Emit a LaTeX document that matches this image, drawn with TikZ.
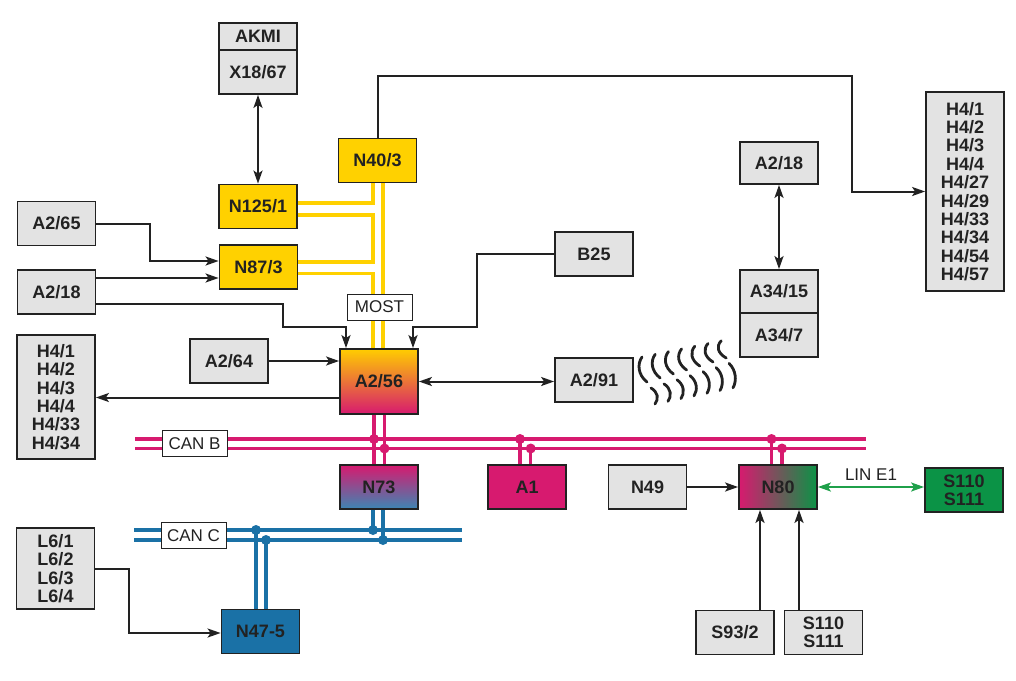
\documentclass[tikz,border=0pt]{standalone}
\usepackage{fontspec}
\setmainfont{Liberation Sans}
\usepackage{xcolor}
\usepackage{tikz}
\usetikzlibrary{arrows.meta,positioning,calc}
\definecolor{boxgray}{HTML}{E3E3E3}
\definecolor{mostyellow}{HTML}{FFD100}
\definecolor{canmagenta}{HTML}{D71A6F}
\definecolor{canblue}{HTML}{1A71A6}
\definecolor{lingreen}{HTML}{0B9346}
\definecolor{linarrow}{HTML}{1FA04A}
\definecolor{ink}{HTML}{222222}
\tikzset{
  unitbox/.style={draw=ink, line width=1.8pt, minimum width=78pt, minimum height=44pt,
    inner sep=1pt, align=center, text=ink, font=\bfseries\fontsize{18}{18.4}\selectfont},
  graybox/.style={unitbox, fill=boxgray},
  yellowbox/.style={unitbox, fill=mostyellow},
  buslabel/.style={draw=ink, fill=white, line width=1pt, inner sep=2pt, minimum height=26pt,
    minimum width=65pt, text=ink, font=\fontsize{17}{18}\selectfont},
  conn/.style={ink, line width=2pt, -{Stealth[length=13pt,width=9pt,inset=3pt]}},
  dconn/.style={ink, line width=2pt, {Stealth[length=13pt,width=9pt,inset=3pt]}-{Stealth[length=13pt,width=9pt,inset=3pt]}},
  mostline/.style={mostyellow, line width=3.2pt},
  canbline/.style={canmagenta, line width=3.2pt},
  cancline/.style={canblue, line width=3.2pt},
  wave/.style={ink, line width=2.8pt, line cap=round},
}
\begin{document}
\begin{tikzpicture}[x=1pt,y=-1pt]
\useasboundingbox (0,0) rectangle (1016,680);
%%First place the nodes
\node[graybox, minimum height=27pt] (akmi) at (258,36.5) {AKMI};
\node[graybox, below=-1.8pt of akmi] (x1867) {X18/67};
\node[yellowbox] (n1251) at (258,206.5) {N125/1};
\node[yellowbox] (n873) at (258.5,267) {N87/3};
\node[yellowbox] (n403) at (377.5,160.5) {N40/3};
\node[graybox] (a265) at (56.5,223.5) {A2/65};
\node[graybox] (a218l) at (56.5,292) {A2/18};
\node[graybox, minimum height=124pt] (h4l) at (56,397) {H4/1\\H4/2\\H4/3\\H4/4\\H4/33\\H4/34};
\node[graybox] (a264) at (229,361) {A2/64};
\node[unitbox, minimum height=65pt, top color=mostyellow!95!orange, bottom color=canmagenta] (a256) at (379,381.5) {A2/56};
\node[graybox] (b25) at (594,254) {B25};
\node[graybox] (a291) at (594,380) {A2/91};
\node[graybox, minimum height=42pt] (a218r) at (779,163) {A2/18};
\node[graybox, minimum height=43pt] (a3415) at (779,291.5) {A34/15};
\node[graybox, below=-1.8pt of a3415] (a347) {A34/7};
\node[graybox, minimum height=199pt] (h4r) at (965,191.5)
  {H4/1\\H4/2\\H4/3\\H4/4\\H4/27\\H4/29\\H4/33\\H4/34\\H4/54\\H4/57};
\node[unitbox, top color=canmagenta, bottom color=canblue!85!white] (n73) at (379,487) {N73};
\node[unitbox, fill=canmagenta] (a1) at (527,487) {A1};
\node[graybox] (n49) at (647.5,487) {N49};
\node[unitbox, left color=canmagenta, right color=lingreen] (n80) at (778,487) {N80};
\node[unitbox, fill=lingreen] (s110g) at (964,490) {S110\\S111};
\node[graybox, minimum height=81pt] (l6) at (55.5,568.5) {L6/1\\L6/2\\L6/3\\L6/4};
\node[unitbox, fill=canblue] (n475) at (260.5,631.5) {N47-5};
\node[graybox] (s932) at (735,632.5) {S93/2};
\node[graybox] (s110) at (823.5,632.5) {S110\\S111};
%%Bus end points
\coordinate (cb1w) at (135,439);
\coordinate (cb1e) at (866,439);
\coordinate (cb2w) at (135,448.5);
\coordinate (cb2e) at (866,448.5);
\coordinate (cc1w) at (134,530);
\coordinate (cc1e) at (462,530);
\coordinate (cc2w) at (134,540);
\coordinate (cc2e) at (462,540);
%%Draw the MOST ring
\coordinate (r1) at ($(n403.south)+(-4.5,0)$);
\coordinate (r2) at ($(n403.south)+(5.5,0)$);
\coordinate (n1251a) at ($(n1251.east)+(0,-3.5)$);
\coordinate (n1251b) at ($(n1251.east)+(0,8.5)$);
\coordinate (n873a) at ($(n873.east)+(0,-5)$);
\coordinate (n873b) at ($(n873.east)+(0,6.3)$);
\draw[mostline] (r1) |- (n1251a);
\draw[mostline] (n1251b) -| (r1 |- n873a) -- (n873a);
\draw[mostline] (n873b) -| (r1 |- a256.north);
\draw[mostline] (r2) -- (r2 |- a256.north);
%%Draw the CAN B bus
\draw[canbline] (cb1w) -- (cb1e);
\draw[canbline] (cb2w) -- (cb2e);
\foreach \dx/\bus in {-5/cb1w, 5.5/cb2w}{
  \coordinate (t) at ($(a256.south)+(\dx,0)$);
  \draw[canbline] (t) -- (t |- n73.north);
  \fill[canmagenta] (t |- \bus) circle (5);
}
\foreach \unit/\dx/\bus in {a1/-7/cb1w, a1/3.7/cb2w, n80/-6.5/cb1w, n80/4/cb2w}{
  \coordinate (t) at ($(\unit.north)+(\dx,0)$);
  \draw[canbline] (t |- \bus) -- (t);
  \fill[canmagenta] (t |- \bus) circle (5);
}
%%Draw the CAN C bus
\draw[cancline] (cc1w) -- (cc1e);
\draw[cancline] (cc2w) -- (cc2e);
\foreach \dx/\bus in {-6/cc1w, 4/cc2w}{
  \coordinate (t) at ($(n73.south)+(\dx,0)$);
  \draw[cancline] (t) -- (t |- \bus);
  \fill[canblue] (t |- \bus) circle (5);
}
\foreach \dx/\bus in {-4.5/cc1w, 5.5/cc2w}{
  \coordinate (t) at ($(n475.north)+(\dx,0)$);
  \draw[cancline] (t |- \bus) -- (t);
  \fill[canblue] (t |- \bus) circle (5);
}
%%Bus labels on top
\node[buslabel] (most) at (379.5,307) {MOST};
\node[buslabel] (canb) at (194.5,443.5) {CAN B};
\node[buslabel] (canc) at (193.5,535.5) {CAN C};
%%Draw the black arrows
\draw[dconn] (x1867.south) -- (n1251.north);
\draw[dconn] (a218r.south) -- (a3415.north);
\draw[dconn] (a256.east) -- (a256.east -| a291.west);
\draw[conn] (a265.east) -- ++(54,0) |- ($(n873.west)+(0,-6)$);
\coordinate (a218out) at ($(a218l.east)+(0,-14)$);
\draw[conn] (a218out) -- (a218out -| n873.west);
\draw[conn] ($(a218l.east)+(0,12)$) -- ++(187,0) |- ($(a256.north)+(-33,-21)$) -- ($(a256.north)+(-33,0)$);
\draw[conn] (b25.west) -- ++(-77,0) |- ($(a256.north)+(34,-21)$) -- ($(a256.north)+(34,0)$);
\draw[conn] (a264.east) -- (a264.east -| a256.west);
\coordinate (a256out) at ($(a256.west)+(0,16)$);
\draw[conn] (a256out) -- (a256out -| h4l.east);
\draw[conn] (n403.north) -- ++(0,-62) -| ($(h4r.west)+(-73,0)$) -- (h4r.west);
\draw[conn] (n49.east) -- (n80.west);
\coordinate (n80in1) at ($(n80.south)+(-18,0)$);
\coordinate (n80in2) at ($(n80.south)+(21,0)$);
\draw[conn] (n80in1 |- s932.north) -- (n80in1);
\draw[conn] (n80in2 |- s110.north) -- (n80in2);
\draw[conn] (l6.east) -- ++(34,0) |- ($(n475.west)+(0,1.5)$);
%%Draw the green LIN arrow
\draw[dconn, linarrow] (n80.east) -- (n80.east -| s110g.west)
  node[midway, above=2pt, text=ink, font=\fontsize{17}{18}\selectfont] (lin) {LIN E1};
%%Draw the radio waves
\foreach \i in {0,...,6}{
  \draw[wave] ({642+13.2*\i},{357-2.7*\i})
    .. controls ({637+13.2*\i},{364-3*\i}) and ({638+13.2*\i},{375-3.7*\i}) .. ({647+13.2*\i},{382-4*\i});
  \draw[wave] ({651+13*\i},{388-4.1*\i})
    .. controls ({658+13*\i},{392-3.7*\i}) and ({659+13*\i},{399-3*\i}) .. ({655+13*\i},{404-2.7*\i});
}
\end{tikzpicture}
\end{document}
